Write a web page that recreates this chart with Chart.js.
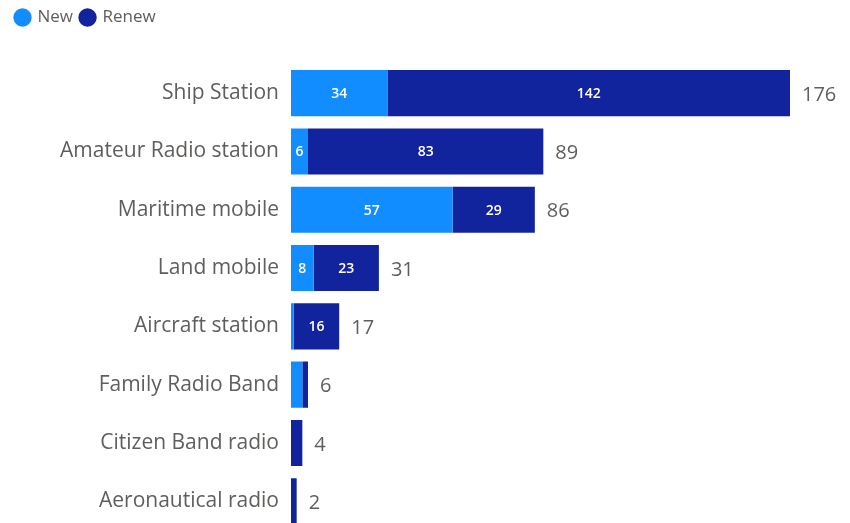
<!DOCTYPE html>
<html>
<head>
<meta charset="utf-8">
<script src="https://cdn.jsdelivr.net/npm/chart.js@4.4.1/dist/chart.umd.min.js"></script>
<style>
  html, body { margin: 0; padding: 0; background: #fff; overflow: hidden; }
  #wrap { width: 850px; height: 523px; overflow: hidden; position: relative; }
  #box { width: 850px; height: 547px; position: absolute; left: 0; top: 0; }
</style>
</head>
<body>
<div id="wrap"><div id="box"><canvas id="chart"></canvas></div></div>
<script>
  // categories and series values
  const categories = ["Ship Station", "Amateur Radio station", "Maritime mobile", "Land mobile",
    "Aircraft station", "Family Radio Band", "Citizen Band radio", "Aeronautical radio"];
  const newValues = [34, 6, 57, 8, 1, 4, 0, 0];
  const renewValues = [142, 83, 29, 23, 16, 2, 4, 2];
  const totals = newValues.map((v, i) => v + renewValues[i]);

  const fontFamily = "'Open Sans', 'Noto Sans', sans-serif";
  const grey = "#605E5C";

  // labels inside segments and totals after the bar
  const barLabels = {
    id: "barLabels",
    afterDatasetsDraw(chart) {
      const ctx = chart.ctx;
      ctx.save();
      ctx.textBaseline = "middle";
      chart.data.datasets.forEach((ds, di) => {
        const meta = chart.getDatasetMeta(di);
        meta.data.forEach((bar, i) => {
          const v = ds.data[i];
          if (!v) return;
          const w = Math.abs(bar.x - bar.base);
          ctx.font = "600 14px " + fontFamily;
          const txt = String(v);
          const tw = ctx.measureText(txt).width;
          if (w >= tw + 6) {
            ctx.fillStyle = "#ffffff";
            ctx.textAlign = "center";
            ctx.fillText(txt, (bar.x + bar.base) / 2, bar.y + 1);
          }
        });
      });
      const last = chart.getDatasetMeta(chart.data.datasets.length - 1);
      last.data.forEach((bar, i) => {
        ctx.font = "20px " + fontFamily;
        ctx.fillStyle = grey;
        ctx.textAlign = "left";
        ctx.fillText(String(totals[i]), bar.x + 12, bar.y + 2);
      });
      ctx.restore();
    }
  };

  // keep room under the legend
  const legendSpace = {
    id: "legendSpace",
    beforeUpdate(chart) {
      const lg = chart.legend;
      if (lg && !lg._patched) {
        const fit = lg.fit;
        lg.fit = function() {
          fit.call(this);
          this.height = 63;
        };
        lg._patched = true;
      }
    }
  };

  new Chart(document.getElementById("chart"), {
    type: "bar",
    data: {
      labels: categories,
      datasets: [
        { label: "New", data: newValues, backgroundColor: "#118DFF" },
        { label: "Renew", data: renewValues, backgroundColor: "#12239E" }
      ]
    },
    options: {
      indexAxis: "y",
      responsive: true,
      maintainAspectRatio: false,
      animation: false,
      categoryPercentage: 0.79,
      barPercentage: 1,
      layout: { padding: { top: 1, right: 60, left: 8, bottom: 1 } },
      scales: {
        x: {
          stacked: true,
          min: 0,
          max: Math.max(...totals),
          display: false
        },
        y: {
          stacked: true,
          grid: { display: false },
          border: { display: false },
          afterFit(scale) { scale.width = 283; },
          ticks: {
            color: grey,
            padding: 4,
            font: { family: fontFamily, size: 21 }
          }
        }
      },
      plugins: {
        legend: {
          display: true,
          position: "top",
          align: "start",
          labels: {
            usePointStyle: true,
            pointStyle: "circle",
            boxWidth: 13,
            boxHeight: 13,
            padding: 8,
            color: grey,
            font: { family: fontFamily, size: 17 }
          }
        },
        tooltip: { enabled: false }
      }
    },
    plugins: [barLabels, legendSpace]
  });
</script>
</body>
</html>
